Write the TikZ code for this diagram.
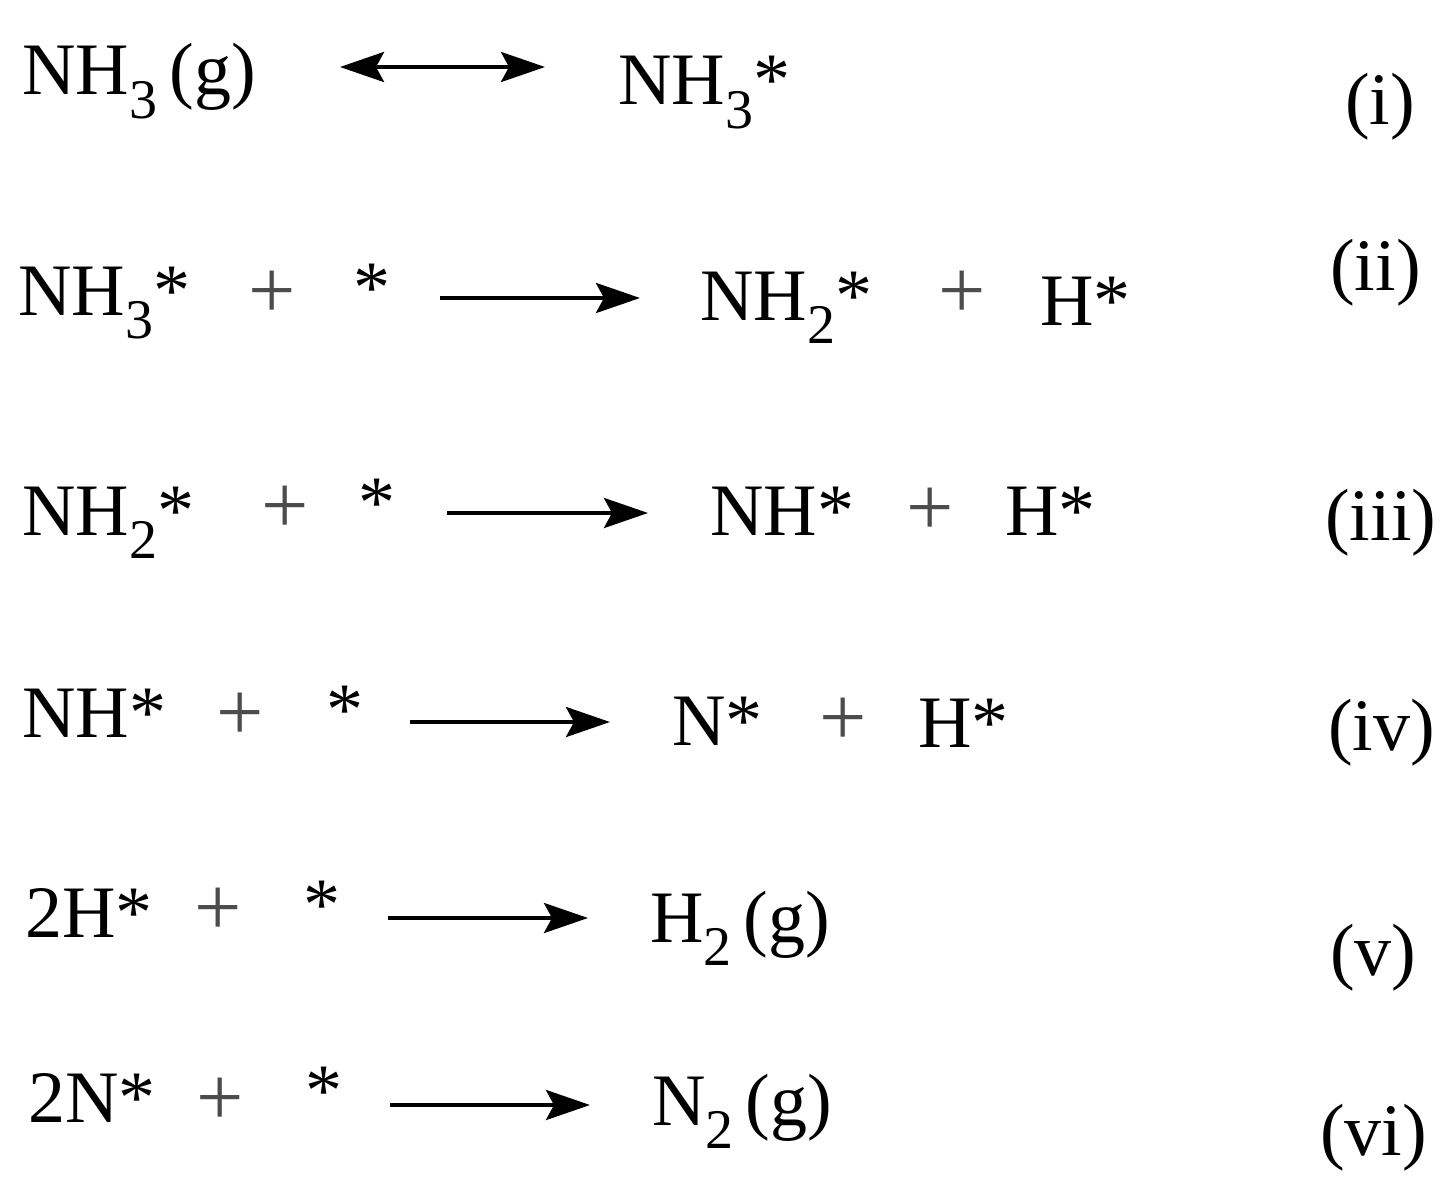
\documentclass[tikz,border=0pt]{standalone}
\usepackage{fontspec}
\setmainfont{Liberation Serif}
\usetikzlibrary{arrows.meta}
\newcommand{\sbs}[1]{\raisebox{-0.32em}{\fontsize{56}{56}\selectfont #1}}
\begin{document}
\begin{tikzpicture}[x=1pt,y=-1pt,
  t/.style={anchor=base west,inner sep=0pt,font=\fontsize{74}{74}\selectfont},
  pl/.style={anchor=center,inner sep=0pt,font=\fontsize{84}{84}\selectfont,text=black!70},
  rx/.style={line width=4pt,-{Stealth[length=44pt,width=30pt,inset=8pt]}},
  rxx/.style={line width=4pt,{Stealth[length=44pt,width=30pt,inset=8pt]}-{Stealth[length=44pt,width=30pt,inset=8pt]}}]
\useasboundingbox (0,0) rectangle (1456,1201);
% (i)
\node[t] (a1) at (22,95) {NH\sbs{3}\,(g)};
\node[t] (b1) at (618,105) {NH\sbs{3}*};
\node[t] (n1) at (1345,125) {(i)};
\coordinate (s1) at (340,67); \coordinate (e1) at (545,67);
\draw[rxx] (s1) -- (e1);
% (ii)
\node[t] (a2) at (18,315) {NH\sbs{3}*};
\node[pl] (p2) at (272,295) {+};
\node[t] (c2) at (353,312) {*};
\node[t] (b2) at (700,320) {NH\sbs{2}*};
\node[pl] (q2) at (962,295) {+};
\node[t] (d2) at (1040,325) {H*};
\node[t] (n2) at (1330,290) {(ii)};
\coordinate (s2) at (440,298); \coordinate (e2) at (640,298);
\draw[rx] (s2) -- (e2);
% (iii)
\node[t] (a3) at (22,535) {NH\sbs{2}*};
\node[pl] (p3) at (285,510) {+};
\node[t] (c3) at (358,527) {*};
\node[t] (b3) at (710,535) {NH*};
\node[pl] (q3) at (930,512) {+};
\node[t] (d3) at (1005,535) {H*};
\node[t] (n3) at (1325,540) {(iii)};
\coordinate (s3) at (447,513); \coordinate (e3) at (648,513);
\draw[rx] (s3) -- (e3);
% (iv)
\node[t] (a4) at (22,737) {NH*};
\node[pl] (p4) at (240,717) {+};
\node[t] (c4) at (326,734) {*};
\node[t] (b4) at (672,745) {N*};
\node[pl] (q4) at (843,722) {+};
\node[t] (d4) at (918,747) {H*};
\node[t] (n4) at (1328,750) {(iv)};
\coordinate (s4) at (410,722); \coordinate (e4) at (610,722);
\draw[rx] (s4) -- (e4);
% (v)
\node[t] (a5) at (25,937) {2H*};
\node[pl] (p5) at (218,912) {+};
\node[t] (c5) at (303,929) {*};
\node[t] (b5) at (650,942) {H\sbs{2}\,(g)};
\node[t] (n5) at (1330,975) {(v)};
\coordinate (s5) at (388,918); \coordinate (e5) at (588,918);
\draw[rx] (s5) -- (e5);
% (vi)
\node[t] (a6) at (28,1122) {2N*};
\node[pl] (p6) at (220,1102) {+};
\node[t] (c6) at (305,1115) {*};
\node[t] (b6) at (652,1125) {N\sbs{2}\,(g)};
\node[t] (n6) at (1320,1155) {(vi)};
\coordinate (s6) at (390,1105); \coordinate (e6) at (590,1105);
\draw[rx] (s6) -- (e6);
\end{tikzpicture}
\end{document}
